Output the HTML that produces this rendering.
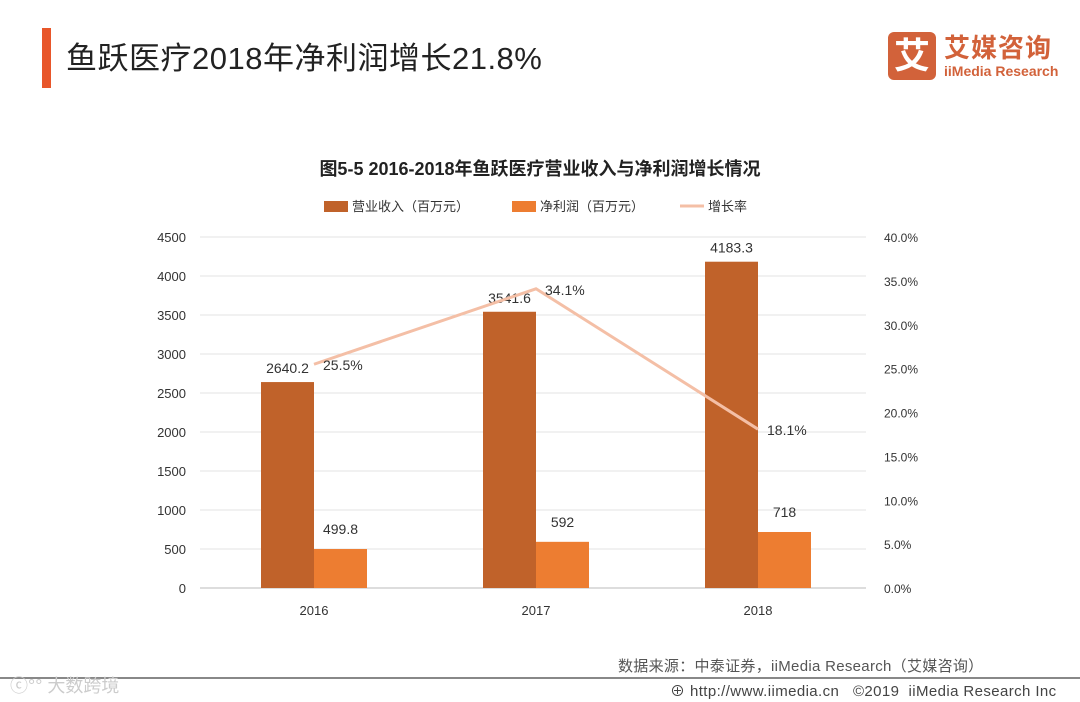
<!DOCTYPE html>
<html><head><meta charset="utf-8"><style>
body{margin:0;width:1080px;height:702px;background:#fff;position:relative;overflow:hidden;font-family:"Liberation Sans","Noto Sans CJK SC",sans-serif;}
.abs{position:absolute;}
</style></head><body>
<div class="abs" style="left:42px;top:28px;width:9px;height:60px;background:#E8562A"></div>
<div class="abs" style="left:66px;top:33px;font-size:31px;letter-spacing:0.5px;color:#222">鱼跃医疗2018年净利润增长21.8%</div>
<div class="abs" style="left:888px;top:32px;width:190px;height:48px;white-space:nowrap">
 <div style="position:absolute;left:0;top:0;width:48px;height:48px;background:#D2623A;border-radius:6px;color:#fff;font-size:36px;font-weight:bold;text-align:center;line-height:48px">艾</div>
 <div style="position:absolute;left:56px;top:-4px;font-size:26px;font-weight:bold;color:#D2623A;letter-spacing:1px">艾媒咨询</div>
 <div style="position:absolute;left:56px;top:31px;font-size:14px;color:#D2623A;font-weight:bold">iiMedia Research</div>
</div>
<div class="abs" style="left:0;width:1080px;top:155px;text-align:center;font-size:18px;font-weight:bold;color:#222">图5-5 2016-2018年鱼跃医疗营业收入与净利润增长情况</div>
<svg class="abs" style="left:0;top:0" width="1080" height="702" id="chart"></svg>
<div class="abs" style="left:618px;top:655px;font-size:15px;letter-spacing:0.3px;color:#555">数据来源：中泰证券，iiMedia Research（艾媒咨询）</div>
<div class="abs" style="left:0;top:677px;width:1080px;height:2px;background:#888"></div>
<div class="abs" style="left:670px;top:680px;font-size:15px;letter-spacing:0.4px;color:#444">⊕ http://www.iimedia.cn &nbsp;&nbsp;©2019 &nbsp;iiMedia Research Inc</div>
<div class="abs" style="left:10px;top:672px;font-size:18px;color:#ccc">ⓒ°° 大数跨境</div>
<script>
const categories=["2016","2017","2018"];
const revenue=[2640.2,3541.6,4183.3];
const profit=[499.8,592,718];
const growth=[25.5,34.1,18.1];
const leftTicks=[0,500,1000,1500,2000,2500,3000,3500,4000,4500];
const rightTicks=[0,5,10,15,20,25,30,35,40];
const svg=document.getElementById('chart');
const NS='http://www.w3.org/2000/svg';
const x0=203,x1=869,yT=237,yB=588;
const band=(x1-x0)/categories.length;
const cx=i=>x0+band*(i+0.5);
const yL=v=>yB-v/4500*(yB-yT);
const yR=v=>yB-v/40*(yB-yT);
function mk(tag,attrs,txt){const e=document.createElementNS(NS,tag);for(const k in attrs)e.setAttribute(k,attrs[k]);if(txt!==undefined)e.textContent=txt;svg.appendChild(e);return e;}
leftTicks.forEach(t=>{
 const g=mk('line',{x1:200,x2:866,y1:yL(t),y2:yL(t),stroke:t===0?'#bbb':'#e3e3e3'});
 
 
 const l=mk('text',{x:186,y:yL(t)+5,'text-anchor':'end','font-size':13,fill:'#333'},t);
 
 
});
rightTicks.forEach(t=>{
 const l=mk('text',{x:884,y:yR(t)+5,'font-size':12,fill:'#333'},t.toFixed(1)+'%');
 
 
});
const bw=53;
categories.forEach((c,i)=>{
 const r=mk('rect',{x:cx(i)-bw,y:yL(revenue[i]),width:bw,height:yB-yL(revenue[i]),fill:'#C0622A'});
 
 
 const p=mk('rect',{x:cx(i),y:yL(profit[i]),width:bw,height:yB-yL(profit[i]),fill:'#ED7D31'});
 
 
 const t1=mk('text',{x:cx(i)-bw/2,y:yL(revenue[i])-9,'text-anchor':'middle','font-size':14,fill:'#333'},revenue[i]);
 
 
 const t2=mk('text',{x:cx(i)+bw/2,y:yL(profit[i])-15,'text-anchor':'middle','font-size':14,fill:'#333'},profit[i]);
 
 
 const xl=mk('text',{x:cx(i),y:615,'text-anchor':'middle','font-size':13,fill:'#333'},c);
 
 
});
const line=mk('polyline',{points:growth.map((g,i)=>cx(i)+','+yR(g)).join(' '),fill:'none',stroke:'#F4BFA6','stroke-width':3});


growth.forEach((g,i)=>{
 const t=mk('text',{x:cx(i)+9,y:yR(g)+6,'font-size':14,fill:'#333'},g.toFixed(1)+'%');
 
 
});
const legend=[['rect','#C0622A','营业收入（百万元）',324],['rect','#ED7D31','净利润（百万元）',512],['line','#F4BFA6','增长率',680]];
legend.forEach(([k,col,txt,x])=>{
 let m;
 if(k==='rect')m=mk('rect',{x:x,y:201,width:24,height:11,fill:col});
 else m=mk('line',{x1:x,x2:x+24,y1:206,y2:206,stroke:col,'stroke-width':3});
 
 
 const t=mk('text',{x:x+28,y:211,'font-size':13,fill:'#333'},txt);
 
 
});
</script>
</body></html>
